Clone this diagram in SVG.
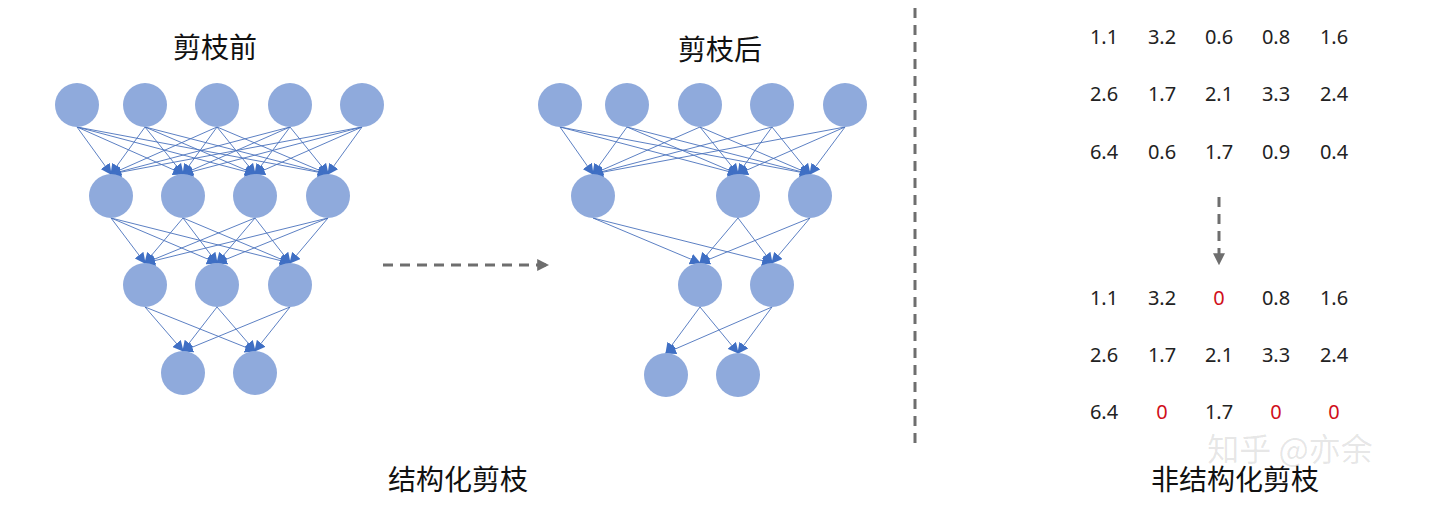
<svg xmlns="http://www.w3.org/2000/svg" width="1440" height="515" viewBox="0 0 1440 515">
<defs>
<marker id="ah" viewBox="0 0 10 10" refX="9" refY="5" markerWidth="11" markerHeight="11" markerUnits="userSpaceOnUse" orient="auto"><path d="M0,0L10,5L0,10z" fill="#3F6FC4"/></marker>
<marker id="ag" viewBox="0 0 10 10" refX="9" refY="5" markerWidth="12" markerHeight="12" markerUnits="userSpaceOnUse" orient="auto"><path d="M0,0L10,5L0,10z" fill="#6E6E6E"/></marker>
</defs>
<style>
.n{fill:#8FAADC}
.e{stroke:#4A72BC;stroke-width:0.9;fill:none;marker-end:url(#ah)}
.t{font-family:"Noto Sans CJK SC","Noto Sans",sans-serif;font-size:28px;fill:#111;text-anchor:middle}
.v{font-family:"Noto Sans","Liberation Sans",sans-serif;font-size:20px;fill:#222;text-anchor:middle}
.r{fill:#D0101A}
.d{stroke:#6E6E6E;stroke-width:3;stroke-dasharray:10 7;fill:none}
</style>
<rect width="1440" height="515" fill="#fff"/>
<g id="connectors">
<g class="e">
<line x1="77" y1="127" x2="111" y2="174"/><line x1="77" y1="127" x2="183" y2="174"/><line x1="77" y1="127" x2="255" y2="174"/><line x1="77" y1="127" x2="328" y2="174"/>
<line x1="145" y1="127" x2="111" y2="174"/><line x1="145" y1="127" x2="183" y2="174"/><line x1="145" y1="127" x2="255" y2="174"/><line x1="145" y1="127" x2="328" y2="174"/>
<line x1="217" y1="127" x2="111" y2="174"/><line x1="217" y1="127" x2="183" y2="174"/><line x1="217" y1="127" x2="255" y2="174"/><line x1="217" y1="127" x2="328" y2="174"/>
<line x1="290" y1="127" x2="111" y2="174"/><line x1="290" y1="127" x2="183" y2="174"/><line x1="290" y1="127" x2="255" y2="174"/><line x1="290" y1="127" x2="328" y2="174"/>
<line x1="362" y1="127" x2="111" y2="174"/><line x1="362" y1="127" x2="183" y2="174"/><line x1="362" y1="127" x2="255" y2="174"/><line x1="362" y1="127" x2="328" y2="174"/>
<line x1="111" y1="218" x2="145" y2="263"/><line x1="111" y1="218" x2="217" y2="263"/><line x1="111" y1="218" x2="290" y2="263"/>
<line x1="183" y1="218" x2="145" y2="263"/><line x1="183" y1="218" x2="217" y2="263"/><line x1="183" y1="218" x2="290" y2="263"/>
<line x1="255" y1="218" x2="145" y2="263"/><line x1="255" y1="218" x2="217" y2="263"/><line x1="255" y1="218" x2="290" y2="263"/>
<line x1="328" y1="218" x2="145" y2="263"/><line x1="328" y1="218" x2="217" y2="263"/><line x1="328" y1="218" x2="290" y2="263"/>
<line x1="145" y1="307" x2="183" y2="351"/><line x1="145" y1="307" x2="255" y2="351"/>
<line x1="217" y1="307" x2="183" y2="351"/><line x1="217" y1="307" x2="255" y2="351"/>
<line x1="290" y1="307" x2="183" y2="351"/><line x1="290" y1="307" x2="255" y2="351"/>
<line x1="560" y1="127" x2="593" y2="174"/><line x1="560" y1="127" x2="738" y2="174"/><line x1="560" y1="127" x2="810" y2="174"/>
<line x1="627" y1="127" x2="593" y2="174"/><line x1="627" y1="127" x2="738" y2="174"/><line x1="627" y1="127" x2="810" y2="174"/>
<line x1="700" y1="127" x2="593" y2="174"/><line x1="700" y1="127" x2="738" y2="174"/><line x1="700" y1="127" x2="810" y2="174"/>
<line x1="772" y1="127" x2="593" y2="174"/><line x1="772" y1="127" x2="738" y2="174"/><line x1="772" y1="127" x2="810" y2="174"/>
<line x1="845" y1="127" x2="593" y2="174"/><line x1="845" y1="127" x2="738" y2="174"/><line x1="845" y1="127" x2="810" y2="174"/>
<line x1="593" y1="218" x2="700" y2="263"/><line x1="593" y1="218" x2="772" y2="263"/>
<line x1="738" y1="218" x2="700" y2="263"/><line x1="738" y1="218" x2="772" y2="263"/>
<line x1="810" y1="218" x2="700" y2="263"/><line x1="810" y1="218" x2="772" y2="263"/>
<line x1="700" y1="307" x2="666" y2="353"/><line x1="700" y1="307" x2="738" y2="353"/>
<line x1="772" y1="307" x2="666" y2="353"/><line x1="772" y1="307" x2="738" y2="353"/>
</g>
<line class="d" x1="383" y1="265" x2="548" y2="265" marker-end="url(#ag)"/>
<line class="d" x1="1219" y1="197" x2="1219" y2="264" marker-end="url(#ag)"/>
<line class="d" x1="915" y1="8" x2="915" y2="445"/>
</g>
<g id="left-net">
<circle class="n" cx="77" cy="105" r="22"/><circle class="n" cx="145" cy="105" r="22"/><circle class="n" cx="217" cy="105" r="22"/><circle class="n" cx="290" cy="105" r="22"/><circle class="n" cx="362" cy="105" r="22"/>
<circle class="n" cx="111" cy="196" r="22"/><circle class="n" cx="183" cy="196" r="22"/><circle class="n" cx="255" cy="196" r="22"/><circle class="n" cx="328" cy="196" r="22"/>
<circle class="n" cx="145" cy="285" r="22"/><circle class="n" cx="217" cy="285" r="22"/><circle class="n" cx="290" cy="285" r="22"/>
<circle class="n" cx="183" cy="373" r="22"/><circle class="n" cx="255" cy="373" r="22"/>
</g>
<g id="right-net">
<circle class="n" cx="560" cy="105" r="22"/><circle class="n" cx="627" cy="105" r="22"/><circle class="n" cx="700" cy="105" r="22"/><circle class="n" cx="772" cy="105" r="22"/><circle class="n" cx="845" cy="105" r="22"/>
<circle class="n" cx="593" cy="196" r="22"/><circle class="n" cx="738" cy="196" r="22"/><circle class="n" cx="810" cy="196" r="22"/>
<circle class="n" cx="700" cy="285" r="22"/><circle class="n" cx="772" cy="285" r="22"/>
<circle class="n" cx="666" cy="375" r="22"/><circle class="n" cx="738" cy="375" r="22"/>
</g>
<g id="labels">
<text class="t" x="215" y="58">剪枝前</text>
<text class="t" x="720" y="60">剪枝后</text>
<text class="t" x="458" y="490">结构化剪枝</text>
<text class="t" x="1235" y="490">非结构化剪枝</text>
<text x="1290" y="461" font-family="Noto Sans CJK SC,sans-serif" font-size="32" fill="#000" fill-opacity="0.1" text-anchor="middle">知乎 @亦余</text>
</g>
<g id="matrix-before" class="v">
<text x="1104" y="44">1.1</text><text x="1162" y="44">3.2</text><text x="1219" y="44">0.6</text><text x="1276" y="44">0.8</text><text x="1334" y="44">1.6</text>
<text x="1104" y="101">2.6</text><text x="1162" y="101">1.7</text><text x="1219" y="101">2.1</text><text x="1276" y="101">3.3</text><text x="1334" y="101">2.4</text>
<text x="1104" y="159">6.4</text><text x="1162" y="159">0.6</text><text x="1219" y="159">1.7</text><text x="1276" y="159">0.9</text><text x="1334" y="159">0.4</text>
</g>
<g id="matrix-after" class="v">
<text x="1104" y="305">1.1</text><text x="1162" y="305">3.2</text><text class="r" x="1219" y="305">0</text><text x="1276" y="305">0.8</text><text x="1334" y="305">1.6</text>
<text x="1104" y="362">2.6</text><text x="1162" y="362">1.7</text><text x="1219" y="362">2.1</text><text x="1276" y="362">3.3</text><text x="1334" y="362">2.4</text>
<text x="1104" y="419">6.4</text><text class="r" x="1162" y="419">0</text><text x="1219" y="419">1.7</text><text class="r" x="1276" y="419">0</text><text class="r" x="1334" y="419">0</text>
</g>
</svg>
